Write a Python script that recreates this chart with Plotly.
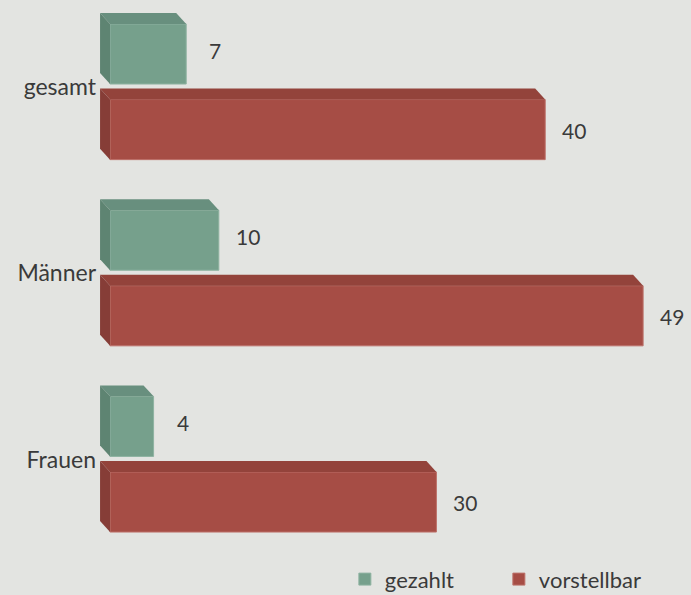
import plotly.graph_objects as go

categories = ["gesamt", "Männer", "Frauen"]
gezahlt = [7, 10, 4]
vorstellbar = [40, 49, 30]

BG = "#e3e4e1"
GREEN = "#76a08c"
GREEN_TOP = "#688f7e"
GREEN_SIDE = "#5e8472"
RED = "#a64d45"
RED_TOP = "#93433b"
RED_SIDE = "#863d37"
FONT = "Lato"
TXT = "#3a3a3a"

pos = list(range(len(categories)))
OFF = 0.203
W = 0.3226
DX = 0.92   # depth in x data units
DY = 0.059  # depth in y data units

fig = go.Figure()
fig.add_trace(go.Bar(
    name="gezahlt", orientation="h", x=gezahlt, y=[p - OFF for p in pos], width=W,
    marker=dict(color=GREEN, line=dict(color="#8fb3a2", width=1)),
))
fig.add_trace(go.Bar(
    name="vorstellbar", orientation="h", x=vorstellbar, y=[p + OFF for p in pos], width=W,
    marker=dict(color=RED, line=dict(color="#bd716a", width=1)),
))

shapes = []
annotations = []
for series, off, top, side, lab_dy in [(gezahlt, -OFF, GREEN_TOP, GREEN_SIDE, -0.02),
                                       (vorstellbar, OFF, RED_TOP, RED_SIDE, 0.005)]:
    for p, v in zip(pos, series):
        yc = p + off
        yt = yc - W / 2
        yb = yc + W / 2
        # top face
        shapes.append(dict(type="path", xref="x", yref="y", layer="above",
                           path=f"M 0,{yt} L {v},{yt} L {v-DX},{yt-DY} L {-DX},{yt-DY} Z",
                           fillcolor=top, line=dict(width=0)))
        # left side face
        shapes.append(dict(type="path", xref="x", yref="y", layer="above",
                           path=f"M 0,{yt} L {-DX},{yt-DY} L {-DX},{yb-DY} L 0,{yb} Z",
                           fillcolor=side, line=dict(width=0)))
        annotations.append(dict(x=v, y=yc + lab_dy, xref="x", yref="y", text=str(v),
                                showarrow=False, xanchor="center", xshift=29,
                                font=dict(family=FONT, size=21, color=TXT)))

fig.update_layout(
    width=691, height=595,
    paper_bgcolor=BG, plot_bgcolor=BG,
    margin=dict(l=97, r=37, t=8, b=47, autoexpand=False),
    barmode="overlay",
    shapes=shapes, annotations=annotations,
    showlegend=True,
    legend=dict(orientation="h", x=0.445, xanchor="left", y=-0.058, yanchor="middle",
                font=dict(family=FONT, size=22, color=TXT), entrywidth=109,
                bgcolor="rgba(0,0,0,0)"),
    font=dict(family=FONT, color=TXT),
)
fig.update_xaxes(range=[-1.2, 50], showgrid=False, zeroline=False, showticklabels=False,
                 showline=False, ticks="")
fig.update_yaxes(range=[2.45, -0.45], tickvals=[p - 0.025 for p in pos], ticktext=categories,
                 showgrid=False, zeroline=False, showline=False, ticks="",
                 tickfont=dict(family=FONT, size=23, color=TXT))

fig.write_html("out.html", config={"displayModeBar": False},
               post_script="document.body.style.margin='0';document.body.style.background='#e3e4e1';")
